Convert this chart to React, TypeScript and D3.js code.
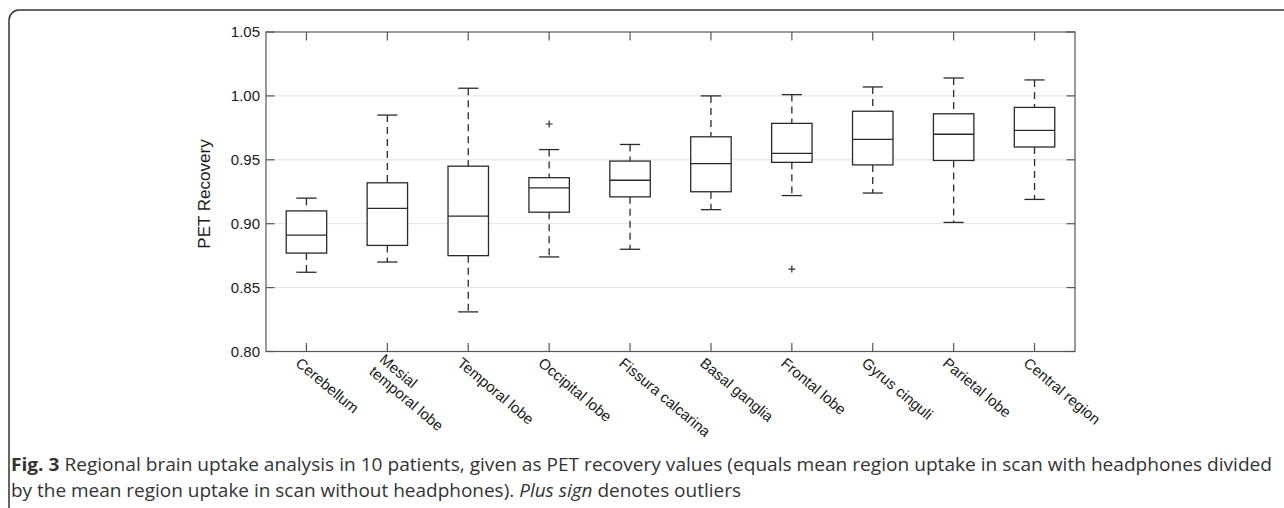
import React from 'react';
import * as d3 from 'd3';

const categories = [
  'Cerebellum',
  'Mesial\ntemporal lobe',
  'Temporal lobe',
  'Occipital lobe',
  'Fissura calcarina',
  'Basal ganglia',
  'Frontal lobe',
  'Gyrus cinguli',
  'Parietal lobe',
  'Central region',
];
const whiskerHigh = [0.920, 0.985, 1.006, 0.958, 0.962, 1.000, 1.001, 1.007, 1.014, 1.0125];
const q3 = [0.910, 0.932, 0.945, 0.936, 0.949, 0.968, 0.9785, 0.988, 0.986, 0.991];
const median = [0.891, 0.912, 0.906, 0.928, 0.934, 0.947, 0.955, 0.966, 0.970, 0.973];
const q1 = [0.877, 0.883, 0.875, 0.909, 0.921, 0.925, 0.948, 0.946, 0.9495, 0.960];
const whiskerLow = [0.862, 0.870, 0.831, 0.874, 0.880, 0.911, 0.922, 0.924, 0.901, 0.919];
const outliers: number[][] = [[], [], [], [0.978], [], [], [0.8645], [], [], []];
const yTicks = [0.80, 0.85, 0.90, 0.95, 1.00, 1.05];
const yLabel = 'PET Recovery';
const captionBold = 'Fig. 3';
const captionLine1 = ' Regional brain uptake analysis in 10 patients, given as PET recovery values (equals mean region uptake in scan with headphones divided';
const captionLine2a = 'by the mean region uptake in scan without headphones). ';
const captionItalic = 'Plus sign';
const captionLine2b = ' denotes outliers';

export default function App() {
  const W = 1284, H = 508;
  const left = 266, right = 1075, top = 32, bottom = 351.5;
  const x = d3.scalePoint<string>().domain(categories).range([left, right]).padding(0.5);
  const step = x.step();
  const y = d3.scaleLinear().domain([0.80, 1.05]).range([bottom, top]);
  const boxW = step * 0.5;
  const capW = boxW * 0.5;
  const ink = '#2a2a2a';
  const axisC = '#555';
  const font = 'Liberation Sans, Arial, Helvetica, sans-serif';
  const tickLen = 8.5;

  return (
    <svg width={W} height={H} style={{ position: 'absolute', left: 0, top: 0, background: '#fff' }}
      xmlns="http://www.w3.org/2000/svg">
      <rect x={0} y={0} width={W} height={H} fill="#fff" />
      {/* frame */}
      <path d={`M9,${H} V20 A10,10 0 0 1 19,10 H${W}`} fill="none" stroke="#333" strokeWidth={1.5} />

      {/* gridlines */}
      {yTicks.filter(t => t > 0.801 && t < 1.049).map(t => (
        <line key={'g' + t} x1={left} x2={right} y1={y(t)} y2={y(t)} stroke="#e2e2e2" strokeWidth={1} />
      ))}

      {/* axes frame */}
      <rect x={left} y={top} width={right - left} height={bottom - top} fill="none" stroke={axisC} strokeWidth={1.2} />

      {/* y ticks */}
      {yTicks.map(t => (
        <g key={'yt' + t}>
          <line x1={left} x2={left + tickLen} y1={y(t)} y2={y(t)} stroke={axisC} strokeWidth={1.2} />
          <line x1={right} x2={right - tickLen} y1={y(t)} y2={y(t)} stroke={axisC} strokeWidth={1.2} />
          <text x={left - 6} y={y(t)} dy="0.36em" textAnchor="end" fontFamily={font} fontSize={15} fill="#1a1a1a">
            {t.toFixed(2)}
          </text>
        </g>
      ))}

      {/* x ticks */}
      {categories.map(c => (
        <g key={'xt' + c}>
          <line x1={x(c)} x2={x(c)} y1={bottom} y2={bottom - tickLen} stroke={axisC} strokeWidth={1.2} />
          <line x1={x(c)} x2={x(c)} y1={top} y2={top + tickLen} stroke={axisC} strokeWidth={1.2} />
        </g>
      ))}

      {/* x labels */}
      {categories.map(c => {
        const lines = c.split('\n');
        const lh = 16;
        const xc = x(c) as number;
        return (
          <g key={'xl' + c} transform={`translate(${xc - 5},${bottom + 5}) rotate(40)`}>
            {lines.map((ln, i) => (
              <text key={i} x={0} y={(i - (lines.length - 1) * 0.3) * lh} dy="0.72em"
                fontFamily={font} fontSize={15} fill="#1a1a1a">{ln}</text>
            ))}
          </g>
        );
      })}

      {/* y label */}
      <text transform={`translate(210,194) rotate(-90)`} textAnchor="middle" fontFamily={font} fontSize={17} fill="#1a1a1a">
        {yLabel}
      </text>

      {/* boxes */}
      {categories.map((c, i) => {
        const xc = x(c) as number;
        return (
          <g key={'b' + c} stroke={ink} fill="none" strokeWidth={1.3}>
            <line x1={xc} x2={xc} y1={y(whiskerHigh[i])} y2={y(q3[i])} strokeDasharray="7,5" />
            <line x1={xc} x2={xc} y1={y(q1[i])} y2={y(whiskerLow[i])} strokeDasharray="7,5" />
            <line x1={xc - capW / 2} x2={xc + capW / 2} y1={y(whiskerHigh[i])} y2={y(whiskerHigh[i])} />
            <line x1={xc - capW / 2} x2={xc + capW / 2} y1={y(whiskerLow[i])} y2={y(whiskerLow[i])} />
            <rect x={xc - boxW / 2} y={y(q3[i])} width={boxW} height={y(q1[i]) - y(q3[i])} fill="#fff" />
            <line x1={xc - boxW / 2} x2={xc + boxW / 2} y1={y(median[i])} y2={y(median[i])} />
            {outliers[i].map((o, j) => (
              <path key={j} d={`M${xc - 3.5},${y(o)} h7 M${xc},${y(o) - 3.5} v7`} strokeWidth={1.2} />
            ))}
          </g>
        );
      })}

      {/* caption */}
      <text x={11} y={471} fontFamily="Open Sans, sans-serif" fontSize={18.5} fill="#333"
        textLength={1261} lengthAdjust="spacingAndGlyphs">
        <tspan fontWeight="bold">{captionBold}</tspan>
        <tspan>{captionLine1}</tspan>
      </text>
      <text x={11} y={497} fontFamily="Open Sans, sans-serif" fontSize={18.5} fill="#333"
        textLength={730} lengthAdjust="spacingAndGlyphs">
        <tspan>{captionLine2a}</tspan>
        <tspan fontStyle="italic">{captionItalic}</tspan>
        <tspan>{captionLine2b}</tspan>
      </text>
    </svg>
  );
}
